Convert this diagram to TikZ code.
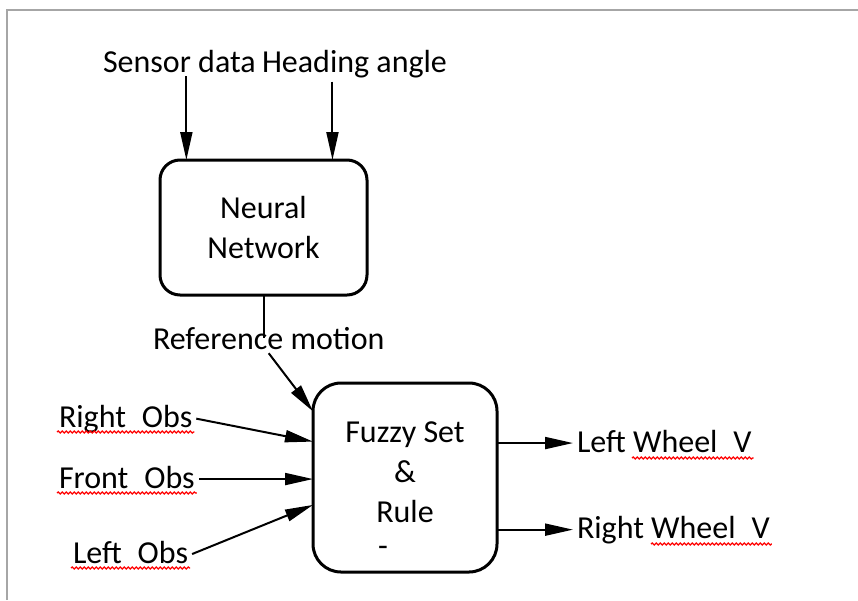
\documentclass[tikz,border=0pt]{standalone}
\usepackage{fontspec}
\setmainfont{Carlito}
\usetikzlibrary{arrows.meta,calc,decorations.pathmorphing}

% gap left where the hidden underscore stands
\newcommand{\usgap}{\phantom{\_}}

\begin{document}
\begin{tikzpicture}[x=1pt, y=-1pt,
  every node/.style={font=\fontsize{32}{40}\selectfont},
  lbl/.style={inner sep=0pt, outer sep=4pt, anchor=base west},
  blk/.style={draw, line width=3pt, rounded corners=#1, align=center, outer sep=0pt},
  arr/.style={line width=2pt, -{Triangle[length=28pt,width=12pt]}},
  squig/.style={red, line width=1.3pt, decorate, decoration={snake, amplitude=1pt, segment length=4pt}}]
  \useasboundingbox (0,0) rectangle (858,600);
  % page frame
  \draw[gray!70, line width=2pt] (7,600) -- (7,10) -- (858,10);

  % TOP: neural network and its inputs
  \node[lbl] (sensor) at (99,72) {Sensor data};
  \node[lbl] (heading) at (258,72) {Heading angle};
  \node[blk=20pt, minimum width=207pt, minimum height=135pt] (nn) at (263.5,227.5) {Neural\\Network};
  \draw[arr] ([xshift=7pt]sensor.south) -- ([xshift=7pt]sensor.south |- nn.north);
  \draw[arr] ([xshift=-22pt]heading.south) -- ([xshift=-22pt]heading.south |- nn.north);

  % MIDDLE: reference motion
  \node[lbl] (ref) at (149,349) {Reference motion};
  \draw[line width=2pt] (nn.south) -- (nn.south |- ref.center);

  % BOTTOM: fuzzy controller
  \node[blk=28pt, minimum width=184pt, minimum height=189pt, text depth=10pt] (fz) at (405,477.5) {Fuzzy Set\\\&\\Rule};
  \node[inner sep=0pt] (dash) at (383,551) {-};
  \draw[arr] (ref.south) -- ($(fz.north west)!0.15!(fz.south west)$);

  % inputs on the left
  \node[lbl] (robs) at (55,427) {Right\usgap Obs};
  \node[lbl] (fobs) at (55,488) {Front\usgap Obs};
  \node[lbl] (lobs) at (69,563) {Left\usgap Obs};
  \draw[arr] (robs.east) -- ($(fz.north west)!0.31!(fz.south west)$);
  \draw[arr] (fobs.east) -- (fobs.east -| fz.west);
  \draw[arr] (lobs.east) -- ($(fz.north west)!0.645!(fz.south west)$);

  % outputs on the right
  \node[lbl] (lwv) at (573,452) {Left Wheel\usgap V};
  \node[lbl] (rwv) at (573,538) {Right Wheel\usgap V};
  \draw[arr] (fz.east |- lwv.west) -- (lwv.west);
  \draw[arr] (fz.east |- rwv.west) -- (rwv.west);

  % spell-check squiggles
  \foreach \n in {robs,fobs,lobs}
    \draw[squig] ($(\n.base west)+(2,5)$) -- ($(\n.base east)+(-2,5)$);
  \draw[squig] ($(lwv.base west)+(59,6)$) -- ($(lwv.base east)+(-2,6)$);
  \draw[squig] ($(rwv.base west)+(78,6)$) -- ($(rwv.base east)+(-2,6)$);
\end{tikzpicture}
\end{document}
